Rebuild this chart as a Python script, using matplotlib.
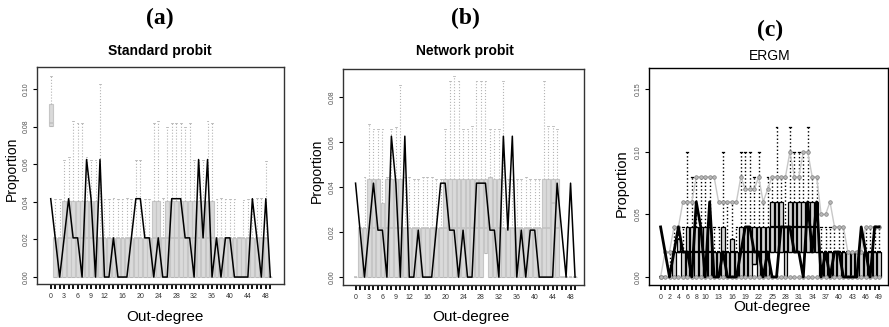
import numpy as np
import matplotlib
matplotlib.use("Agg")
import matplotlib.pyplot as plt

plt.rcParams['font.family'] = ['Liberation Sans', 'DejaVu Sans']

# ---- 資料 ----
degree = list(range(50))

# 觀察到的出度分布 (48 nodes)
obs_counts = [2, 1, 0, 1, 2, 1, 1, 0, 3, 2, 0, 3, 0, 0, 1, 0, 0, 0, 1, 2,
              2, 1, 1, 0, 1, 0, 0, 2, 2, 2, 1, 1, 0, 3, 1, 3, 0, 1, 0, 1,
              1, 0, 0, 0, 0, 2, 1, 0, 2, 0]
obs_ab = [c / 48 for c in obs_counts]
obs_c = [0.04, 0.02, 0.00, 0.02, 0.04, 0.02, 0.02, 0.00, 0.06, 0.04,
         0.00, 0.06, 0.00, 0.00, 0.02, 0.00, 0.00, 0.00, 0.02, 0.04,
         0.04, 0.02, 0.02, 0.00, 0.02, 0.00, 0.00, 0.04, 0.04, 0.04,
         0.02, 0.02, 0.00, 0.06, 0.02, 0.06, 0.00, 0.02, 0.00, 0.02,
         0.02, 0.00, 0.00, 0.00, 0.00, 0.04, 0.02, 0.00, 0.04, 0.04]

# (a) Standard probit
a_q1 = [0.0802] + [0.0] * 49
a_med = [0.082] + [0.0208] * 48 + [0.0]
a_q3 = ([0.0919, 0.0208, 0.0208] + [0.0405] * 8 + [0.0208] * 12 + [0.0405] * 2
        + [0.0208] + [0.0405] * 11 + [0.0208] * 12 + [0.0])
a_hi = [0.107, 0.0417, 0.0417, 0.0625, 0.064, 0.083, 0.082, 0.082, 0.064, 0.0625,
        0.0625, 0.1027, 0.0417, 0.0417, 0.042, 0.0417, 0.0417, 0.042, 0.0417, 0.0625,
        0.0625, 0.0417, 0.0417, 0.082, 0.083, 0.042, 0.080, 0.082, 0.082, 0.082,
        0.080, 0.082, 0.0625, 0.0625, 0.0625, 0.083, 0.082, 0.0417, 0.042, 0.0417,
        0.0417, 0.0417, 0.0214, 0.041, 0.0417, 0.0417, 0.042, 0.042, 0.0615, 0.0]

# (b) Network probit
b_q1 = [0.0] * 29 + [0.0105] + [0.0] * 20
b_med = [0.0] + [0.0217] * 43 + [0.0327, 0.0217] + [0.0] * 4
b_q3 = ([0.0, 0.0217, 0.0217, 0.0435, 0.0435, 0.0435, 0.0327] + [0.0435] * 4
        + [0.0217] * 9 + [0.0435] * 10 + [0.0445, 0.0435, 0.0435]
        + [0.0217] * 9 + [0.0435] * 4 + [0.0] * 4)
b_hi = [0.0, 0.0217, 0.0445, 0.068, 0.0655, 0.0655, 0.0655, 0.0445, 0.0655, 0.0667,
        0.085, 0.0445, 0.0445, 0.0435, 0.0435, 0.0445, 0.0445, 0.0445, 0.0435, 0.0435,
        0.0655, 0.087, 0.089, 0.087, 0.0655, 0.0655, 0.067, 0.087, 0.087, 0.087,
        0.0655, 0.0655, 0.0655, 0.087, 0.0435, 0.0435, 0.0435, 0.0435, 0.0445, 0.0435,
        0.0435, 0.0435, 0.087, 0.067, 0.067, 0.0655, 0.0, 0.0, 0.0, 0.0]

# (c) ERGM
c_q1 = ([0.0] * 4 + [0.02] + [0.0] * 16 + [0.01] + [0.0] * 3 + [0.02] * 3 + [0.0]
        + [0.02] * 7 + [0.0] * 14)
c_med = ([0.0] * 3 + [0.02] * 22 + [0.04] * 3 + [0.02] + [0.04] * 7 + [0.02] * 14)
c_q3 = ([0.0] * 3 + [0.02, 0.03, 0.02] + [0.04] * 6 + [0.02, 0.02, 0.04, 0.02, 0.03, 0.02]
        + [0.04] * 7 + [0.06] * 3 + [0.04] + [0.06] * 7 + [0.02] * 14)
c_hi = [0.0, 0.0, 0.02, 0.04, 0.04, 0.04, 0.10, 0.08, 0.08, 0.08,
        0.08, 0.08, 0.04, 0.04, 0.10, 0.06, 0.06, 0.04, 0.10, 0.10,
        0.10, 0.08, 0.10, 0.06, 0.08, 0.08, 0.12, 0.08, 0.08, 0.12,
        0.10, 0.10, 0.10, 0.12, 0.08, 0.08, 0.04, 0.04, 0.04, 0.04,
        0.04, 0.04, 0.02, 0.02, 0.02, 0.02, 0.04, 0.04, 0.04, 0.04]
c_band_hi = [0.0, 0.02, 0.02, 0.04, 0.04, 0.06, 0.06, 0.06, 0.08, 0.08,
             0.08, 0.08, 0.08, 0.06, 0.06, 0.06, 0.06, 0.06, 0.08, 0.07,
             0.07, 0.07, 0.08, 0.06, 0.07, 0.08, 0.08, 0.08, 0.08, 0.10,
             0.08, 0.08, 0.10, 0.10, 0.08, 0.08, 0.05, 0.05, 0.06, 0.04,
             0.04, 0.04, 0.02, 0.02, 0.02, 0.02, 0.04, 0.04, 0.04, 0.04]
c_band_lo = [0.0] * 50

ab_xlabels = ['0', '3', '6', '9', '12', '16', '20', '24', '28', '32', '36', '40', '44', '48']
c_xlabels = ['0', '2', '4', '6', '8', '10', '13', '16', '19', '22', '25', '28', '31',
             '34', '37', '40', '43', '46', '49']


def make_stats(q1, med, q3, hi):
    return [dict(q1=q1[i], med=med[i], q3=q3[i], whislo=q1[i], whishi=hi[i])
            for i in range(len(q1))]


def style_axes(ax, xlabels, yticks, ylim, xlim, frame_color):
    ax.set_xlim(*xlim)
    ax.set_ylim(*ylim)
    labels = [str(d) if str(d) in xlabels else '' for d in degree]
    ax.set_xticks(degree)
    ax.set_xticklabels(labels, fontsize=5, color='#333333')
    ax.set_yticks(yticks)
    ax.set_yticklabels(['%.2f' % t for t in yticks], fontsize=5, color='#555555',
                       rotation=90, va='center')
    ax.tick_params(axis='x', length=3.5, width=1.3, pad=3)
    ax.tick_params(axis='y', length=3, width=0.8, pad=2)
    for s in ax.spines.values():
        s.set_color(frame_color)
        s.set_linewidth(1.0)


W, H = 889, 327
fig = plt.figure(figsize=(W / 100, H / 100), dpi=100)


def px_axes(x0, y0, x1, y1):
    return fig.add_axes([x0 / W, 1 - y1 / H, (x1 - x0) / W, (y1 - y0) / H])


gray_box = dict(facecolor='#DADADA', edgecolor='#C6C6C6', linewidth=0.8)
gray_med = dict(color='#C2C2C2', linewidth=1.2)
gray_whisk = dict(color='#B4B4B4', linestyle=':', linewidth=0.8)
gray_cap = dict(color='#B4B4B4', linewidth=0.6)

# (a)
ax1 = px_axes(37, 67, 284, 284)
ax1.bxp(make_stats(a_q1, a_med, a_q3, a_hi), positions=degree, widths=0.85,
        patch_artist=True, showfliers=False, boxprops=gray_box, medianprops=gray_med,
        whiskerprops=gray_whisk, capprops=gray_cap, capwidths=0.4, manage_ticks=False)
ax1.plot(degree, obs_ab, color='black', linewidth=1.1, zorder=5)
style_axes(ax1, ab_xlabels, [0, 0.02, 0.04, 0.06, 0.08, 0.10], (-0.0037, 0.1117),
           (-3.06, 52.06), '#333333')

# (b)
ax2 = px_axes(343, 69, 584, 285)
ax2.bxp(make_stats(b_q1, b_med, b_q3, b_hi), positions=degree, widths=0.85,
        patch_artist=True, showfliers=False, boxprops=gray_box, medianprops=gray_med,
        whiskerprops=gray_whisk, capprops=gray_cap, capwidths=0.4, manage_ticks=False)
ax2.plot(degree, obs_ab, color='black', linewidth=1.1, zorder=5)
style_axes(ax2, ab_xlabels, [0, 0.02, 0.04, 0.06, 0.08], (-0.0035, 0.0923),
           (-2.8, 51.0), '#333333')

# (c)
ax3 = px_axes(649, 68, 888, 285)
ax3.bxp(make_stats(c_q1, c_med, c_q3, c_hi), positions=degree, widths=0.8,
        patch_artist=True, showfliers=False,
        boxprops=dict(facecolor='#D4D4D4', edgecolor='black', linewidth=0.9),
        medianprops=dict(color='black', linewidth=1.6),
        whiskerprops=dict(color='black', linestyle=':', linewidth=1.0),
        capprops=dict(color='black', linewidth=0.9), capwidths=0.4, manage_ticks=False)
for band in (c_band_hi, c_band_lo):
    ax3.plot(degree, band, color='#C8C8C8', linewidth=1.0, marker='o', markersize=2.6,
             markerfacecolor='#B8B8B8', markeredgecolor='#808080', markeredgewidth=0.5,
             zorder=4)
ax3.plot(degree, obs_c, color='black', linewidth=2.0, zorder=6)
style_axes(ax3, c_xlabels, [0, 0.05, 0.10, 0.15], (-0.0064, 0.167),
           (-2.6, 51.0), 'black')

# 標題與軸標籤
serif = ['Liberation Serif', 'DejaVu Serif']
for x, y, t in [(160, 18, '(a)'), (465, 18, '(b)'), (770, 30, '(c)')]:
    fig.text(x / W, 1 - y / H, t, family=serif, fontweight='bold', fontsize=17,
             ha='center', va='center')
fig.text(160 / W, 1 - 51 / H, 'Standard probit', fontweight='bold', fontsize=10,
         ha='center', va='center')
fig.text(465 / W, 1 - 51 / H, 'Network probit', fontweight='bold', fontsize=10,
         ha='center', va='center')
fig.text(770 / W, 1 - 56 / H, 'ERGM', fontsize=10, ha='center', va='center')

for x, y in [(165, 317), (471, 317), (772, 307)]:
    fig.text(x / W, 1 - y / H, 'Out-degree', fontsize=11, ha='center', va='center')
for x, y, s in [(12, 169, 10), (317, 171, 10), (622, 183, 10.5)]:
    fig.text(x / W, 1 - y / H, 'Proportion', fontsize=s, rotation=90,
             ha='center', va='center')

fig.savefig('out.png', dpi=100)
